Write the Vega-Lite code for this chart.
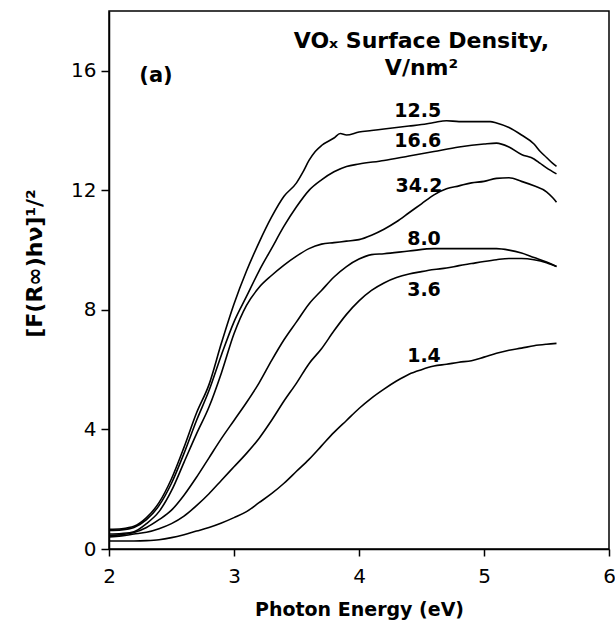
{
  "$schema": "https://vega.github.io/schema/vega-lite/v6.json",
  "width": 500,
  "height": 538,
  "autosize": {"type": "none"},
  "padding": {"left": 109, "top": 11, "right": 6, "bottom": 88},
  "background": "white",
  "config": {
    "view": {"stroke": "black", "strokeWidth": 1.5},
    "axis": {
      "grid": false,
      "domainColor": "black",
      "domainWidth": 1.5,
      "tickColor": "black",
      "tickWidth": 1.5,
      "labelColor": "black",
      "titleColor": "black",
      "labelFont": "DejaVu Sans",
      "labelFontSize": 20,
      "titleFont": "DejaVu Sans",
      "titleFontWeight": "bold"
    }
  },
  "datasets": {
    "curves": [
      {"s":"12.5","e":2.0,"v":0.66},{"s":"12.5","e":2.1,"v":0.68},{"s":"12.5","e":2.2,"v":0.76},{"s":"12.5","e":2.3,"v":1.05},{"s":"12.5","e":2.4,"v":1.55},{"s":"12.5","e":2.5,"v":2.35},{"s":"12.5","e":2.6,"v":3.4},{"s":"12.5","e":2.7,"v":4.55},{"s":"12.5","e":2.8,"v":5.5},{"s":"12.5","e":2.9,"v":6.9},{"s":"12.5","e":3.0,"v":8.2},{"s":"12.5","e":3.1,"v":9.3},{"s":"12.5","e":3.2,"v":10.25},{"s":"12.5","e":3.3,"v":11.1},{"s":"12.5","e":3.4,"v":11.8},{"s":"12.5","e":3.5,"v":12.25},{"s":"12.5","e":3.55,"v":12.6},{"s":"12.5","e":3.6,"v":13.0},{"s":"12.5","e":3.65,"v":13.3},{"s":"12.5","e":3.7,"v":13.5},{"s":"12.5","e":3.8,"v":13.75},{"s":"12.5","e":3.85,"v":13.9},{"s":"12.5","e":3.9,"v":13.85},{"s":"12.5","e":4.0,"v":13.95},{"s":"12.5","e":4.1,"v":14.0},{"s":"12.5","e":4.2,"v":14.05},{"s":"12.5","e":4.3,"v":14.1},{"s":"12.5","e":4.4,"v":14.15},{"s":"12.5","e":4.5,"v":14.2},{"s":"12.5","e":4.6,"v":14.27},{"s":"12.5","e":4.7,"v":14.33},{"s":"12.5","e":4.8,"v":14.3},{"s":"12.5","e":4.9,"v":14.3},{"s":"12.5","e":5.0,"v":14.3},{"s":"12.5","e":5.05,"v":14.3},{"s":"12.5","e":5.1,"v":14.25},{"s":"12.5","e":5.2,"v":14.1},{"s":"12.5","e":5.3,"v":13.85},{"s":"12.5","e":5.4,"v":13.55},{"s":"12.5","e":5.45,"v":13.3},{"s":"12.5","e":5.5,"v":13.1},{"s":"12.5","e":5.55,"v":12.9},{"s":"12.5","e":5.58,"v":12.8},
      {"s":"16.6","e":2.0,"v":0.62},{"s":"16.6","e":2.1,"v":0.64},{"s":"16.6","e":2.2,"v":0.72},{"s":"16.6","e":2.3,"v":0.98},{"s":"16.6","e":2.4,"v":1.45},{"s":"16.6","e":2.5,"v":2.2},{"s":"16.6","e":2.6,"v":3.2},{"s":"16.6","e":2.7,"v":4.3},{"s":"16.6","e":2.8,"v":5.3},{"s":"16.6","e":2.9,"v":6.5},{"s":"16.6","e":3.0,"v":7.6},{"s":"16.6","e":3.1,"v":8.45},{"s":"16.6","e":3.2,"v":9.3},{"s":"16.6","e":3.3,"v":10.05},{"s":"16.6","e":3.4,"v":10.8},{"s":"16.6","e":3.5,"v":11.45},{"s":"16.6","e":3.6,"v":12.0},{"s":"16.6","e":3.7,"v":12.35},{"s":"16.6","e":3.8,"v":12.62},{"s":"16.6","e":3.9,"v":12.8},{"s":"16.6","e":4.0,"v":12.88},{"s":"16.6","e":4.2,"v":13.0},{"s":"16.6","e":4.4,"v":13.15},{"s":"16.6","e":4.6,"v":13.3},{"s":"16.6","e":4.8,"v":13.45},{"s":"16.6","e":5.0,"v":13.55},{"s":"16.6","e":5.1,"v":13.58},{"s":"16.6","e":5.2,"v":13.45},{"s":"16.6","e":5.3,"v":13.2},{"s":"16.6","e":5.4,"v":13.05},{"s":"16.6","e":5.45,"v":12.9},{"s":"16.6","e":5.5,"v":12.75},{"s":"16.6","e":5.58,"v":12.55},
      {"s":"34.2","e":2.0,"v":0.5},{"s":"34.2","e":2.1,"v":0.52},{"s":"34.2","e":2.2,"v":0.58},{"s":"34.2","e":2.3,"v":0.85},{"s":"34.2","e":2.4,"v":1.25},{"s":"34.2","e":2.5,"v":1.95},{"s":"34.2","e":2.6,"v":2.9},{"s":"34.2","e":2.7,"v":3.85},{"s":"34.2","e":2.8,"v":4.75},{"s":"34.2","e":2.9,"v":5.9},{"s":"34.2","e":3.0,"v":7.2},{"s":"34.2","e":3.1,"v":8.15},{"s":"34.2","e":3.2,"v":8.75},{"s":"34.2","e":3.3,"v":9.15},{"s":"34.2","e":3.4,"v":9.5},{"s":"34.2","e":3.5,"v":9.8},{"s":"34.2","e":3.6,"v":10.05},{"s":"34.2","e":3.7,"v":10.2},{"s":"34.2","e":3.8,"v":10.25},{"s":"34.2","e":3.9,"v":10.3},{"s":"34.2","e":4.0,"v":10.35},{"s":"34.2","e":4.1,"v":10.5},{"s":"34.2","e":4.2,"v":10.7},{"s":"34.2","e":4.3,"v":10.95},{"s":"34.2","e":4.4,"v":11.25},{"s":"34.2","e":4.5,"v":11.55},{"s":"34.2","e":4.6,"v":11.85},{"s":"34.2","e":4.7,"v":12.05},{"s":"34.2","e":4.8,"v":12.15},{"s":"34.2","e":4.9,"v":12.25},{"s":"34.2","e":5.0,"v":12.3},{"s":"34.2","e":5.1,"v":12.4},{"s":"34.2","e":5.2,"v":12.42},{"s":"34.2","e":5.3,"v":12.3},{"s":"34.2","e":5.4,"v":12.15},{"s":"34.2","e":5.5,"v":11.95},{"s":"34.2","e":5.55,"v":11.75},{"s":"34.2","e":5.58,"v":11.6},
      {"s":"8.0","e":2.0,"v":0.45},{"s":"8.0","e":2.1,"v":0.48},{"s":"8.0","e":2.2,"v":0.55},{"s":"8.0","e":2.3,"v":0.72},{"s":"8.0","e":2.4,"v":0.98},{"s":"8.0","e":2.5,"v":1.3},{"s":"8.0","e":2.6,"v":1.8},{"s":"8.0","e":2.7,"v":2.4},{"s":"8.0","e":2.8,"v":3.05},{"s":"8.0","e":2.9,"v":3.7},{"s":"8.0","e":3.0,"v":4.3},{"s":"8.0","e":3.1,"v":4.9},{"s":"8.0","e":3.2,"v":5.55},{"s":"8.0","e":3.3,"v":6.3},{"s":"8.0","e":3.4,"v":7.0},{"s":"8.0","e":3.5,"v":7.6},{"s":"8.0","e":3.6,"v":8.2},{"s":"8.0","e":3.7,"v":8.65},{"s":"8.0","e":3.8,"v":9.1},{"s":"8.0","e":3.9,"v":9.45},{"s":"8.0","e":4.0,"v":9.7},{"s":"8.0","e":4.1,"v":9.85},{"s":"8.0","e":4.2,"v":9.88},{"s":"8.0","e":4.4,"v":9.97},{"s":"8.0","e":4.6,"v":10.05},{"s":"8.0","e":4.8,"v":10.05},{"s":"8.0","e":5.0,"v":10.05},{"s":"8.0","e":5.1,"v":10.05},{"s":"8.0","e":5.2,"v":10.0},{"s":"8.0","e":5.3,"v":9.9},{"s":"8.0","e":5.4,"v":9.75},{"s":"8.0","e":5.5,"v":9.6},{"s":"8.0","e":5.58,"v":9.45},
      {"s":"3.6","e":2.0,"v":0.4},{"s":"3.6","e":2.1,"v":0.44},{"s":"3.6","e":2.2,"v":0.5},{"s":"3.6","e":2.3,"v":0.56},{"s":"3.6","e":2.4,"v":0.68},{"s":"3.6","e":2.5,"v":0.85},{"s":"3.6","e":2.6,"v":1.1},{"s":"3.6","e":2.7,"v":1.45},{"s":"3.6","e":2.8,"v":1.85},{"s":"3.6","e":2.9,"v":2.3},{"s":"3.6","e":3.0,"v":2.75},{"s":"3.6","e":3.1,"v":3.2},{"s":"3.6","e":3.2,"v":3.7},{"s":"3.6","e":3.3,"v":4.3},{"s":"3.6","e":3.4,"v":4.95},{"s":"3.6","e":3.5,"v":5.55},{"s":"3.6","e":3.6,"v":6.2},{"s":"3.6","e":3.7,"v":6.7},{"s":"3.6","e":3.8,"v":7.3},{"s":"3.6","e":3.9,"v":7.85},{"s":"3.6","e":4.0,"v":8.3},{"s":"3.6","e":4.1,"v":8.65},{"s":"3.6","e":4.2,"v":8.9},{"s":"3.6","e":4.3,"v":9.08},{"s":"3.6","e":4.4,"v":9.2},{"s":"3.6","e":4.5,"v":9.28},{"s":"3.6","e":4.6,"v":9.35},{"s":"3.6","e":4.7,"v":9.4},{"s":"3.6","e":4.8,"v":9.48},{"s":"3.6","e":4.9,"v":9.55},{"s":"3.6","e":5.0,"v":9.62},{"s":"3.6","e":5.1,"v":9.68},{"s":"3.6","e":5.2,"v":9.72},{"s":"3.6","e":5.3,"v":9.72},{"s":"3.6","e":5.4,"v":9.68},{"s":"3.6","e":5.5,"v":9.58},{"s":"3.6","e":5.58,"v":9.45},
      {"s":"1.4","e":2.0,"v":0.27},{"s":"1.4","e":2.2,"v":0.27},{"s":"1.4","e":2.3,"v":0.28},{"s":"1.4","e":2.4,"v":0.31},{"s":"1.4","e":2.5,"v":0.38},{"s":"1.4","e":2.6,"v":0.48},{"s":"1.4","e":2.7,"v":0.6},{"s":"1.4","e":2.8,"v":0.72},{"s":"1.4","e":2.9,"v":0.87},{"s":"1.4","e":3.0,"v":1.05},{"s":"1.4","e":3.1,"v":1.25},{"s":"1.4","e":3.2,"v":1.55},{"s":"1.4","e":3.3,"v":1.85},{"s":"1.4","e":3.4,"v":2.2},{"s":"1.4","e":3.5,"v":2.6},{"s":"1.4","e":3.6,"v":3.0},{"s":"1.4","e":3.7,"v":3.45},{"s":"1.4","e":3.8,"v":3.9},{"s":"1.4","e":3.9,"v":4.3},{"s":"1.4","e":4.0,"v":4.7},{"s":"1.4","e":4.1,"v":5.05},{"s":"1.4","e":4.2,"v":5.35},{"s":"1.4","e":4.3,"v":5.62},{"s":"1.4","e":4.4,"v":5.85},{"s":"1.4","e":4.5,"v":6.0},{"s":"1.4","e":4.6,"v":6.12},{"s":"1.4","e":4.7,"v":6.18},{"s":"1.4","e":4.8,"v":6.25},{"s":"1.4","e":4.9,"v":6.3},{"s":"1.4","e":5.0,"v":6.42},{"s":"1.4","e":5.1,"v":6.55},{"s":"1.4","e":5.2,"v":6.65},{"s":"1.4","e":5.3,"v":6.72},{"s":"1.4","e":5.4,"v":6.8},{"s":"1.4","e":5.5,"v":6.85},{"s":"1.4","e":5.58,"v":6.88}
    ],
    "labels": [
      {"t":"12.5","e":4.47,"v":14.45},
      {"t":"16.6","e":4.47,"v":13.46},
      {"t":"34.2","e":4.48,"v":11.96},
      {"t":"8.0","e":4.52,"v":10.18},
      {"t":"3.6","e":4.52,"v":8.47},
      {"t":"1.4","e":4.52,"v":6.27}
    ],
    "heading": [
      {"t":"VOₓ Surface Density,","e":4.5,"v":16.76},
      {"t":"V/nm²","e":4.5,"v":15.86}
    ],
    "panel": [
      {"t":"(a)","e":2.376,"v":15.64}
    ]
  },
  "layer": [
    {
      "data": {"name": "curves"},
      "mark": {"type": "line", "color": "black", "strokeWidth": 1.6, "interpolate": "monotone"},
      "encoding": {
        "x": {
          "field": "e", "type": "quantitative",
          "scale": {"domain": [2, 6], "nice": false, "zero": false},
          "axis": {"values": [2, 3, 4, 5, 6], "format": "d", "tickSize": 7, "labelPadding": 10, "title": "Photon Energy (eV)", "titleFontSize": 19, "titlePadding": 14, "labelFlush": false}
        },
        "y": {
          "field": "v", "type": "quantitative",
          "scale": {"domain": [0, 18], "nice": false},
          "axis": {"values": [0, 4, 8, 12, 16], "format": "d", "tickSize": 8, "labelPadding": 5, "title": "[F(R∞)hν]¹/²", "titleFontSize": 22, "titlePadding": 24, "titleY": 252, "labelFlush": false}
        },
        "detail": {"field": "s"}
      }
    },
    {
      "data": {"name": "labels"},
      "mark": {"type": "text", "font": "DejaVu Sans", "fontWeight": "bold", "fontSize": 19, "align": "center", "baseline": "alphabetic", "color": "black"},
      "encoding": {
        "x": {"field": "e", "type": "quantitative"},
        "y": {"field": "v", "type": "quantitative"},
        "text": {"field": "t"}
      }
    },
    {
      "data": {"name": "heading"},
      "mark": {"type": "text", "font": "DejaVu Sans", "fontWeight": "bold", "fontSize": 22, "align": "center", "baseline": "alphabetic", "color": "black"},
      "encoding": {
        "x": {"field": "e", "type": "quantitative"},
        "y": {"field": "v", "type": "quantitative"},
        "text": {"field": "t"}
      }
    },
    {
      "data": {"name": "panel"},
      "mark": {"type": "text", "font": "DejaVu Sans", "fontWeight": "bold", "fontSize": 21, "align": "center", "baseline": "alphabetic", "color": "black"},
      "encoding": {
        "x": {"field": "e", "type": "quantitative"},
        "y": {"field": "v", "type": "quantitative"},
        "text": {"field": "t"}
      }
    }
  ]
}
